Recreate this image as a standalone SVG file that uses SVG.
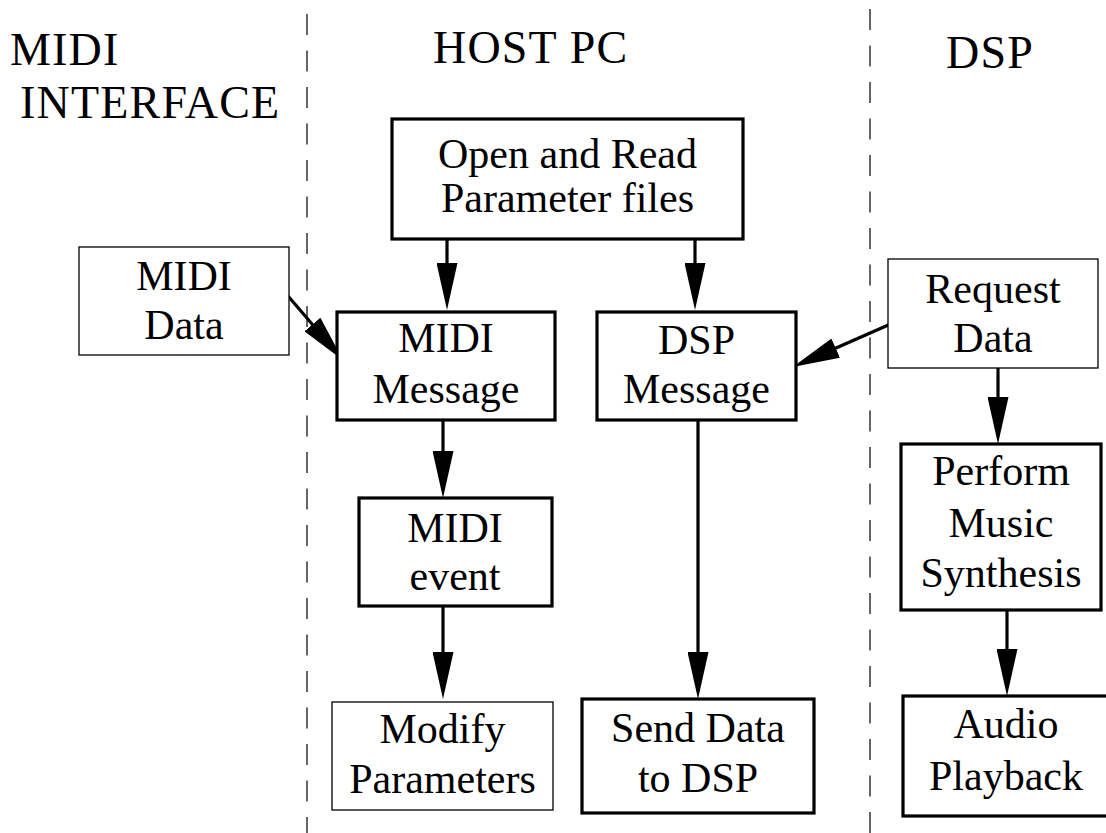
<svg xmlns="http://www.w3.org/2000/svg" width="1106" height="833" viewBox="0 0 1106 833">
<defs>
<style>
.bg{fill:#fff}
.lane{stroke:#000;stroke-width:1.2;stroke-dasharray:21 15.5;fill:none}
.thick{fill:#fff;stroke:#000;stroke-width:3.2}
.thin{fill:#fff;stroke:#000;stroke-width:1.3}
.t{font-family:"Liberation Serif","Times New Roman",serif;font-size:42px;fill:#000;text-anchor:middle}
.h{font-family:"Liberation Serif","Times New Roman",serif;font-size:46px;fill:#000;letter-spacing:1.2px}
.edge{stroke:#000;stroke-width:3.2;fill:none;marker-end:url(#ah)}
</style>
<marker id="ah" viewBox="0 0 47 21" refX="27" refY="10.5" markerWidth="47" markerHeight="21" markerUnits="userSpaceOnUse" orient="auto">
<path d="M0,0 L47,10.5 L0,21 Z" fill="#000"/>
</marker>
</defs>
<rect class="bg" x="0" y="0" width="1106" height="833"/>
<g id="lanes">
<line class="lane" x1="307" y1="14" x2="307" y2="833"/>
<line class="lane" x1="870" y1="9" x2="870" y2="833"/>
<text class="h" x="10" y="65">MIDI</text>
<text class="h" x="20" y="118">INTERFACE</text>
<text class="h" x="433" y="63">HOST PC</text>
<text class="h" x="946" y="68">DSP</text>
</g>
<g id="connectors">
<line class="edge" x1="447" y1="239" x2="447" y2="290"/>
<line class="edge" x1="695" y1="239" x2="695" y2="290"/>
<line class="edge" x1="288" y1="296" x2="330" y2="345"/>
<line class="edge" x1="902" y1="319" x2="811" y2="359"/>
<line class="edge" x1="443" y1="420" x2="443" y2="478"/>
<line class="edge" x1="443" y1="606" x2="443" y2="679"/>
<line class="edge" x1="698" y1="420" x2="698" y2="679"/>
<line class="edge" x1="998" y1="368" x2="998" y2="424"/>
<line class="edge" x1="1007" y1="610" x2="1007" y2="676"/>
</g>
<g id="open-read">
<rect class="thick" x="392" y="119" width="351" height="120"/>
<text class="t" x="567.5" y="168">Open and Read</text>
<text class="t" x="567.5" y="212">Parameter files</text>
</g>
<g id="midi-data">
<rect class="thin" x="79" y="247" width="210" height="108"/>
<text class="t" x="184" y="290">MIDI</text>
<text class="t" x="184" y="339">Data</text>
</g>
<g id="midi-message">
<rect class="thick" x="337" y="312" width="218" height="108"/>
<text class="t" x="446" y="352">MIDI</text>
<text class="t" x="446" y="403">Message</text>
</g>
<g id="dsp-message">
<rect class="thick" x="597" y="312" width="199" height="108"/>
<text class="t" x="696.5" y="354">DSP</text>
<text class="t" x="696.5" y="403">Message</text>
</g>
<g id="request-data">
<rect class="thin" x="888" y="259" width="210" height="109"/>
<text class="t" x="993" y="303">Request</text>
<text class="t" x="993" y="352">Data</text>
</g>
<g id="midi-event">
<rect class="thick" x="359" y="498" width="193" height="108"/>
<text class="t" x="455" y="542">MIDI</text>
<text class="t" x="455" y="590">event</text>
</g>
<g id="perform">
<rect class="thick" x="901" y="444" width="200" height="166"/>
<text class="t" x="1001" y="485">Perform</text>
<text class="t" x="1001" y="537">Music</text>
<text class="t" x="1001" y="587">Synthesis</text>
</g>
<g id="modify">
<rect class="thin" x="332" y="702" width="221" height="108"/>
<text class="t" x="442.5" y="743">Modify</text>
<text class="t" x="442.5" y="793">Parameters</text>
</g>
<g id="send-data">
<rect class="thick" x="582" y="699" width="232" height="114"/>
<text class="t" x="698" y="742">Send Data</text>
<text class="t" x="698" y="792">to DSP</text>
</g>
<g id="audio">
<rect class="thick" x="903" y="696" width="205" height="120"/>
<text class="t" x="1006" y="738">Audio</text>
<text class="t" x="1006" y="790">Playback</text>
</g>
</svg>
